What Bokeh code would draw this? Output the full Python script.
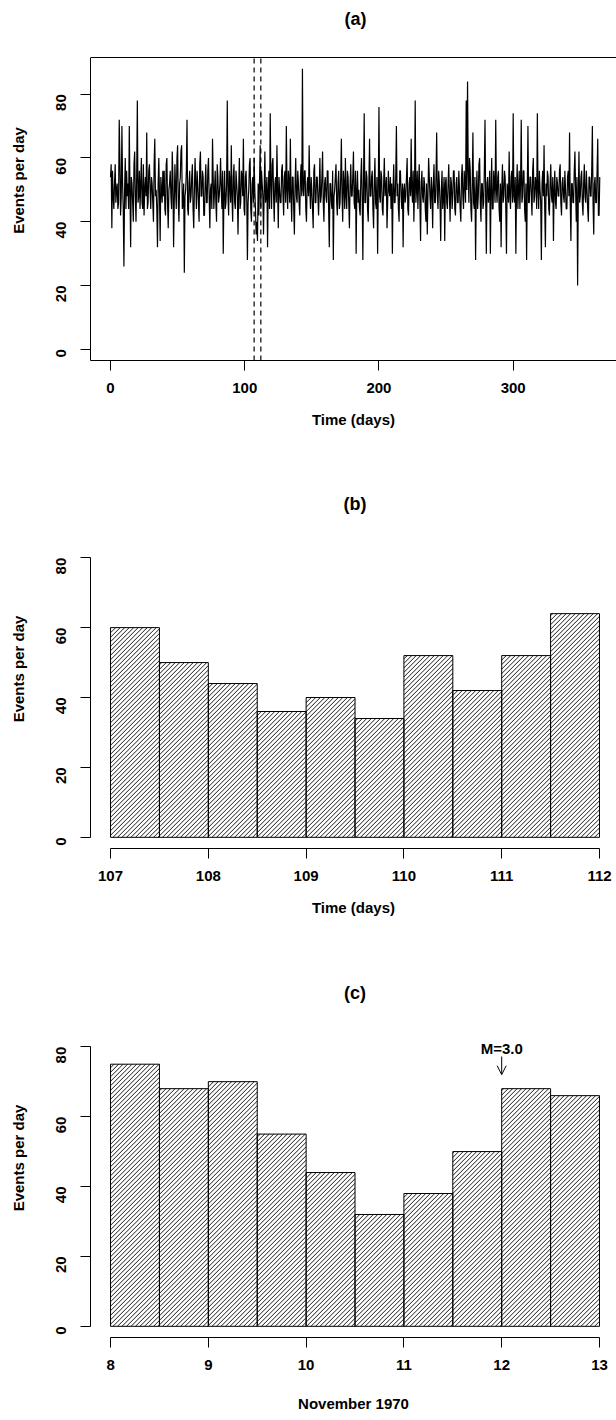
import math
from bokeh.plotting import figure
from bokeh.models import FixedTicker, Label, Arrow, OpenHead, Range1d
from bokeh.layouts import column
from bokeh.embed import file_html
from bokeh.resources import INLINE

FONT = "Liberation Sans"

# ---------------- data ----------------
# (a) event rate (events per day) in half-day bins, days 0..364.5
events_a = [
    54, 58, 38, 56, 48, 44, 52, 58, 46, 50,
    52, 44, 46, 72, 60, 42, 48, 70, 52, 44,
    26, 50, 60, 44, 56, 48, 52, 44, 70, 50,
    32, 54, 52, 46, 40, 58, 62, 48, 40, 54,
    78, 46, 48, 56, 44, 52, 60, 46, 44, 58,
    42, 50, 54, 48, 68, 44, 46, 56, 58, 50,
    44, 54, 52, 46, 40, 58, 66, 48, 50, 44,
    32, 52, 60, 48, 34, 54, 50, 46, 56, 48,
    56, 44, 42, 58, 60, 46, 38, 50, 52, 56,
    48, 44, 62, 54, 32, 46, 58, 50, 44, 60,
    64, 46, 40, 52, 54, 62, 64, 44, 46, 52,
    24, 48, 50, 56, 72, 44, 42, 52, 56, 46,
    48, 54, 58, 44, 38, 50, 60, 52, 44, 56,
    52, 46, 40, 58, 62, 48, 48, 56, 54, 42,
    42, 52, 58, 46, 46, 56, 60, 48, 38, 50,
    52, 44, 66, 54, 44, 50, 56, 46, 40, 58,
    54, 46, 48, 52, 60, 50, 44, 56, 30, 48,
    56, 44, 46, 52, 78, 48, 42, 56, 52, 46,
    64, 48, 40, 54, 58, 46, 44, 56, 52, 48,
    36, 50, 60, 44, 46, 56, 54, 48, 66, 44,
    42, 54, 56, 48, 28, 46, 50, 58, 60, 44,
    40, 52, 54, 46, 60, 50, 44, 36, 40, 34,
    52, 42, 52, 64, 44, 56, 52, 48, 36, 50,
    62, 46, 48, 54, 32, 50, 56, 44, 74, 52,
    44, 58, 60, 48, 40, 52, 54, 46, 64, 50,
    38, 54, 50, 46, 46, 56, 58, 48, 42, 54,
    56, 46, 70, 50, 44, 56, 52, 46, 66, 48,
    40, 54, 54, 44, 36, 52, 60, 48, 46, 56,
    52, 46, 42, 54, 58, 48, 88, 50, 48, 56,
    56, 44, 40, 52, 54, 48, 64, 50, 44, 54,
    50, 44, 38, 56, 58, 46, 46, 54, 54, 48,
    42, 50, 60, 46, 48, 54, 62, 46, 40, 52,
    54, 48, 46, 56, 56, 44, 32, 52, 52, 46,
    44, 56, 28, 48, 50, 54, 58, 46, 42, 52,
    56, 44, 46, 54, 66, 48, 40, 56, 52, 44,
    60, 48, 44, 56, 54, 46, 38, 52, 58, 48,
    48, 54, 62, 46, 44, 56, 30, 50, 56, 46,
    50, 44, 42, 54, 60, 48, 28, 52, 74, 46,
    46, 56, 54, 44, 40, 52, 66, 48, 48, 54,
    56, 44, 38, 52, 60, 46, 44, 54, 30, 50,
    76, 48, 46, 56, 54, 44, 42, 52, 60, 48,
    50, 54, 38, 46, 56, 50, 48, 54, 44, 52,
    30, 50, 58, 46, 46, 54, 70, 48, 52, 44,
    40, 56, 56, 48, 44, 52, 32, 50, 52, 46,
    48, 54, 60, 44, 42, 52, 54, 48, 66, 50,
    46, 56, 40, 50, 78, 46, 50, 56, 44, 52,
    58, 46, 34, 52, 56, 48, 46, 54, 52, 44,
    40, 52, 36, 48, 60, 54, 48, 44, 54, 50,
    38, 52, 58, 46, 46, 54, 68, 48, 44, 56,
    52, 46, 34, 50, 56, 44, 48, 54, 34, 52,
    54, 46, 44, 52, 58, 48, 40, 54, 52, 44,
    48, 56, 56, 44, 42, 52, 54, 46, 46, 56,
    50, 44, 40, 54, 58, 48, 44, 56, 52, 46,
    78, 50, 84, 56, 46, 60, 56, 44, 40, 52,
    68, 46, 44, 54, 28, 48, 56, 44, 48, 58,
    60, 46, 40, 52, 52, 44, 46, 56, 72, 48,
    30, 52, 54, 46, 48, 56, 30, 50, 60, 44,
    44, 56, 52, 46, 72, 50, 46, 54, 56, 44,
    40, 52, 32, 50, 58, 46, 48, 56, 54, 44,
    30, 52, 50, 46, 62, 48, 44, 54, 56, 46,
    74, 48, 46, 54, 30, 50, 58, 44, 50, 56,
    44, 52, 72, 46, 48, 56, 56, 44, 40, 52,
    28, 50, 70, 46, 46, 54, 54, 48, 42, 56,
    60, 46, 48, 54, 52, 44, 74, 50, 44, 56,
    50, 46, 28, 52, 56, 48, 64, 44, 32, 52,
    48, 56, 54, 44, 42, 52, 58, 48, 46, 54,
    34, 50, 56, 46, 44, 54, 52, 48, 48, 56,
    58, 46, 42, 52, 54, 48, 46, 56, 50, 44,
    44, 54, 56, 48, 68, 46, 34, 52, 52, 46,
    46, 56, 62, 50, 40, 54, 20, 48, 62, 46,
    48, 54, 56, 46, 42, 52, 58, 48, 46, 56,
    50, 44, 40, 54, 54, 48, 48, 56, 70, 46,
    36, 52, 54, 46, 46, 56, 66, 42, 42, 54,
]
time_a = [i / 2 for i in range(len(events_a))]
window_a = [107, 112]
ticks_a_x = [0, 100, 200, 300]
ticks_y = [0, 20, 40, 60, 80]
xlim_a = (-14.6, 379.6)
ylim_a = (-3.52, 91.52)

# (b) half-day bins, days 107-112
bins_b = [107.0, 107.5, 108.0, 108.5, 109.0, 109.5, 110.0, 110.5, 111.0, 111.5]
events_b = [60, 50, 44, 36, 40, 34, 52, 42, 52, 64]
ticks_b_x = [107, 108, 109, 110, 111, 112]

# (c) half-day bins, 8-13 November 1970
bins_c = [8.0, 8.5, 9.0, 9.5, 10.0, 10.5, 11.0, 11.5, 12.0, 12.5]
events_c = [75, 68, 70, 55, 44, 32, 38, 50, 68, 66]
ticks_c_x = [8, 9, 10, 11, 12, 13]
bin_width = 0.5
quake_day = 12
quake_label = "M=3.0"

# ---------------- layout constants ----------------
FRAME_W = 526          # plot frame width in px (616 - 90 left border)
FRAME_H_BC = 359       # frame height of panels (b) and (c)
HATCH_GAP = 4.5        # horizontal spacing of the 45-degree hatch lines, px


def style_axis(ax, ticks, label, vertical=False, label_standoff=15):
    ax.ticker = FixedTicker(ticks=ticks)
    ax.axis_label = label
    ax.axis_line_color = "black"
    ax.axis_line_width = 1
    ax.major_tick_line_color = "black"
    ax.major_tick_out = 10
    ax.major_tick_in = 0
    ax.minor_tick_out = 0
    ax.minor_tick_in = 0
    ax.major_label_text_font = FONT
    ax.major_label_text_font_style = "bold"
    ax.major_label_text_font_size = "15px"
    ax.major_label_text_color = "black"
    ax.axis_label_text_font = FONT
    ax.axis_label_text_font_style = "bold"
    ax.axis_label_text_font_size = "15px"
    ax.axis_label_text_color = "black"
    if vertical:
        ax.major_label_orientation = math.pi / 2
        ax.major_label_standoff = 19
        ax.axis_label_standoff = 22
    else:
        ax.major_label_standoff = 12
        ax.axis_label_standoff = label_standoff


def base_fig(height, xr, yr, bottom):
    p = figure(width=616, height=height, x_range=xr, y_range=yr,
               output_backend="svg", toolbar_location=None,
               min_border_left=90, min_border_right=0,
               min_border_top=0, min_border_bottom=bottom)
    p.outline_line_color = None
    p.grid.visible = False
    p.background_fill_color = "white"
    p.border_fill_color = "white"
    return p


def add_text(p, x, y, text, size):
    p.add_layout(Label(x=x, y=y, text=text, text_font=FONT,
                       text_font_style="bold", text_font_size=size,
                       text_align="center", text_baseline="middle",
                       text_color="black"))


def hatched_bars(p, lefts, tops, width):
    """White bars with 45-degree '/' shading lines and black outlines."""
    xr, yr = p.x_range, p.y_range
    kx = FRAME_W / (xr.end - xr.start)          # px per x unit
    ky = FRAME_H_BC / (yr.end - yr.start)       # px per y unit
    x0s, y0s, x1s, y1s = [], [], [], []
    for left, top in zip(lefts, tops):
        XL = (left - xr.start) * kx
        XR = (left + width - xr.start) * kx
        H = top * ky
        kmin = math.floor((XL - H) / HATCH_GAP)
        kmax = math.ceil(XR / HATCH_GAP)
        for k in range(kmin, kmax + 1):
            c = k * HATCH_GAP
            xs = max(XL, c)
            xe = min(XR, c + H)
            if xe - xs > 0.3:
                x0s.append(xr.start + xs / kx)
                y0s.append((xs - c) / ky)
                x1s.append(xr.start + xe / kx)
                y1s.append((xe - c) / ky)
    rights = [l + width for l in lefts]
    p.quad(left=lefts, right=rights, bottom=0, top=tops,
           fill_color="white", line_color=None)
    p.segment(x0=x0s, y0=y0s, x1=x1s, y1=y1s, line_color="black",
              line_width=0.9)
    p.quad(left=lefts, right=rights, bottom=0, top=tops,
           fill_color=None, line_color="black", line_width=1)


# ---------------- panel (a) ----------------
pa = base_fig(489, Range1d(-14.9, 376.97), Range1d(-3.52, 109.4), 129)
style_axis(pa.xaxis[0], ticks_a_x, "Time (days)")
style_axis(pa.yaxis[0], ticks_y, "Events per day", vertical=True)
pa.yaxis[0].bounds = ylim_a
# top side of the box
pa.segment(x0=[xlim_a[0]], y0=[ylim_a[1]], x1=[xlim_a[1]], y1=[ylim_a[1]],
           line_color="black", line_width=1)
pa.line(time_a, events_a, line_color="black", line_width=1.2)
pa.segment(x0=window_a, y0=[ylim_a[0]] * 2, x1=window_a, y1=[ylim_a[1]] * 2,
           line_color="black", line_width=1.2, line_dash="5 4")
add_text(pa, sum(xlim_a) / 2, 103.75, "(a)", "18px")

# ---------------- panel (b) ----------------
pb = base_fig(489, Range1d(106.795, 112.174), Range1d(-3.2, 99.52), 130)
style_axis(pb.xaxis[0], ticks_b_x, "Time (days)")
style_axis(pb.yaxis[0], ticks_y, "Events per day", vertical=True)
pb.xaxis[0].bounds = (ticks_b_x[0], ticks_b_x[-1])
pb.yaxis[0].bounds = (ticks_y[0], ticks_y[-1])
hatched_bars(pb, bins_b, events_b, bin_width)
add_text(pb, (ticks_b_x[0] + ticks_b_x[-1]) / 2, 95.5, "(b)", "18px")

# ---------------- panel (c) ----------------
pc = base_fig(442, Range1d(7.795, 13.174), Range1d(-3.2, 99.52), 83)
style_axis(pc.xaxis[0], ticks_c_x, "November 1970", label_standoff=22)
style_axis(pc.yaxis[0], ticks_y, "Events per day", vertical=True)
pc.xaxis[0].bounds = (ticks_c_x[0], ticks_c_x[-1])
pc.yaxis[0].bounds = (ticks_y[0], ticks_y[-1])
hatched_bars(pc, bins_c, events_c, bin_width)
add_text(pc, (ticks_c_x[0] + ticks_c_x[-1]) / 2, 95.5, "(c)", "18px")
pc.add_layout(Arrow(end=OpenHead(size=9, line_width=1, line_color="black"),
                    x_start=quake_day, y_start=77.2, x_end=quake_day,
                    y_end=72, line_width=1, line_color="black"))
add_text(pc, quake_day, 79.6, quake_label, "15px")

layout = column(pa, pb, pc, spacing=0)
open("out.html", "w").write(file_html(layout, INLINE))
